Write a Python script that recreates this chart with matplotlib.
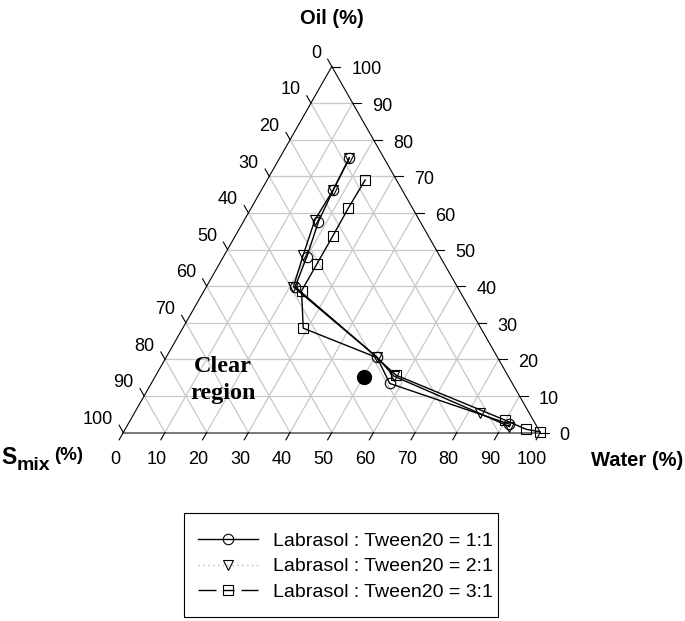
import numpy as np
import matplotlib
matplotlib.use("Agg")
import matplotlib.pyplot as plt
from matplotlib.lines import Line2D
from matplotlib.patches import Rectangle

plt.rcParams["font.family"] = ["Liberation Sans", "DejaVu Sans"]

# ── Data: phase boundary points (water %, oil %), Smix = 100 - water - oil ──
labels = ["Labrasol : Tween20 = 1:1",
          "Labrasol : Tween20 = 2:1",
          "Labrasol : Tween20 = 3:1"]

water_11 = [16.7, 17.2, 18.0, 20.0, 21.3, 50.5, 57.2, 91.4]
oil_11   = [75.0, 66.3, 57.6, 48.0, 39.8, 20.6, 13.4, 2.3]

water_21 = [16.7, 17.2, 16.9, 18.9, 20.9, 50.5, 57.2, 82.9, 91.8]
oil_21   = [75.0, 66.3, 58.1, 48.5, 39.8, 20.6, 15.4, 5.2, 1.6]

water_31 = [23.5, 23.3, 23.4, 23.4, 23.4, 28.9, 50.5, 57.5, 89.8, 96.1, 99.8]
oil_31   = [69.0, 61.3, 53.7, 46.0, 38.7, 28.5, 20.5, 15.7, 3.4, 0.9, 0.2]
marked_31 = [0, 1, 2, 3, 4, 5, 7, 8, 9, 10]   # bend at index 6 has no visible marker

# selected formulation in the clear region
dot_water, dot_oil = 50.2, 15.1

ticks = list(range(0, 101, 10))

H = np.sqrt(3) / 2 * 100


def tern(w, o):
    """ternary (water, oil) -> cartesian"""
    w = np.asarray(w, dtype=float)
    o = np.asarray(o, dtype=float)
    return w + o / 2, o * H / 100


fig = plt.figure(figsize=(6.85, 6.21), dpi=100)
ax = fig.add_axes([123.3 / 685, (621 - 432.5) / 621, 417 / 685, 366 / 621])
ax.set_xlim(0, 100)
ax.set_ylim(0, H)
ax.axis("off")

# grid
gcol = "#c8c8c8"
for v in ticks[1:-1]:
    for (w0, o0, w1, o1) in [(0, v, 100 - v, v),          # const oil
                             (v, 0, v, 100 - v),          # const water
                             (100 - v, 0, 0, 100 - v)]:   # const smix
        x, y = tern([w0, w1], [o0, o1])
        ax.plot(x, y, color=gcol, lw=0.9, zorder=1, clip_on=False)

# border
ax.plot(*tern([0, 0], [0, 100]), color="black", lw=0.8, zorder=2, clip_on=False)
ax.plot(*tern([0, 100], [100, 0]), color="black", lw=0.8, zorder=2, clip_on=False)
ax.plot(*tern([0, 100], [0, 0]), color="#777777", lw=1.4, zorder=2, clip_on=False)

# ticks + labels
L = 2.0
c30 = np.sqrt(3) / 2
fs = 13
for v in ticks:
    # bottom: water
    px, py = tern(v, 0)
    ax.plot([px, px - L * 0.5], [py, py - L * c30], color="black", lw=0.8, clip_on=False)
    ax.annotate(str(v), (px, py), xytext=(-6, -19.5), textcoords="offset points",
                ha="center", va="center", fontsize=fs, annotation_clip=False)
    # right: oil
    px, py = tern(100 - v, v)
    ax.plot([px, px + L], [py, py], color="black", lw=0.8, clip_on=False)
    ax.annotate(str(v), (px, py), xytext=(14, -2.5), textcoords="offset points",
                ha="left", va="center", fontsize=fs, annotation_clip=False)
    # left: smix
    px, py = tern(0, 100 - v)
    ax.plot([px, px - L * 0.5], [py, py + L * c30], color="black", lw=0.8, clip_on=False)
    ax.annotate(str(v), (px, py), xytext=(-7.5, 9.5), textcoords="offset points",
                ha="right", va="center", fontsize=fs, annotation_clip=False)

# series
ms = 7.5
series = [(water_11, oil_11, "o", None),
          (water_21, oil_21, "v", None),
          (water_31, oil_31, "s", marked_31)]
for w, o, m, me in series:
    x, y = tern(w, o)
    ax.plot(x, y, color="black", lw=1.0, marker=m, ms=ms, mfc="none", markevery=me,
            mec="black", mew=0.8, zorder=4, clip_on=False)

x, y = tern(dot_water, dot_oil)
ax.plot(x, y, "o", color="black", ms=10, zorder=5)

ax.text(23.9, 12.4, "Clear\nregion", ha="center", va="center",
        fontsize=17.5, fontweight="bold", family=["Liberation Serif", "DejaVu Serif"],
        linespacing=1.4, zorder=6)

# axis titles
fig.text(332 / 685, 1 - 18 / 621, "Oil (%)", ha="center", va="center",
         fontsize=14.5, fontweight="bold")
fig.text(637 / 685, 1 - 460 / 621, "Water (%)", ha="center", va="center",
         fontsize=14.5, fontweight="bold")
fig.text(1 / 685, 1 - 457 / 621, "S", ha="left", va="center",
         fontsize=16.5, fontweight="bold")
fig.text(17 / 685, 1 - 465 / 621, "mix", ha="left", va="center",
         fontsize=14, fontweight="bold")
fig.text(54 / 685, 1 - 455 / 621, "(%)", ha="left", va="center",
         fontsize=13.5, fontweight="bold")

# legend (frame drawn separately, it is wider on the left than on the right)
handles = [
    Line2D([], [], color="black", lw=1.0, marker="o", ms=ms, mfc="none", mec="black", mew=0.8),
    Line2D([], [], color="#b8b8b8", lw=1.0, ls=(0, (1, 2.5)), marker="v", ms=ms,
           mfc="none", mec="black", mew=0.8),
    Line2D([], [], color="black", lw=1.0, ls=(0, (13, 5, 8, 5)), marker="s", ms=ms,
           mfc="none", mec="black", mew=0.8),
]
leg = ax.legend(handles, labels, loc="upper left",
                bbox_to_anchor=(198 / 685, 1 - 532 / 621), bbox_transform=fig.transFigure,
                frameon=False, fontsize=14, handlelength=3.1, handletextpad=0.78,
                labelspacing=0.42, borderpad=0, borderaxespad=0)
fig.patches.append(Rectangle((184 / 685, 1 - 617 / 621), (498 - 184) / 685, (617 - 513) / 621,
                             transform=fig.transFigure, fill=False, edgecolor="black", lw=0.8))

fig.savefig("out.png", dpi=100)
